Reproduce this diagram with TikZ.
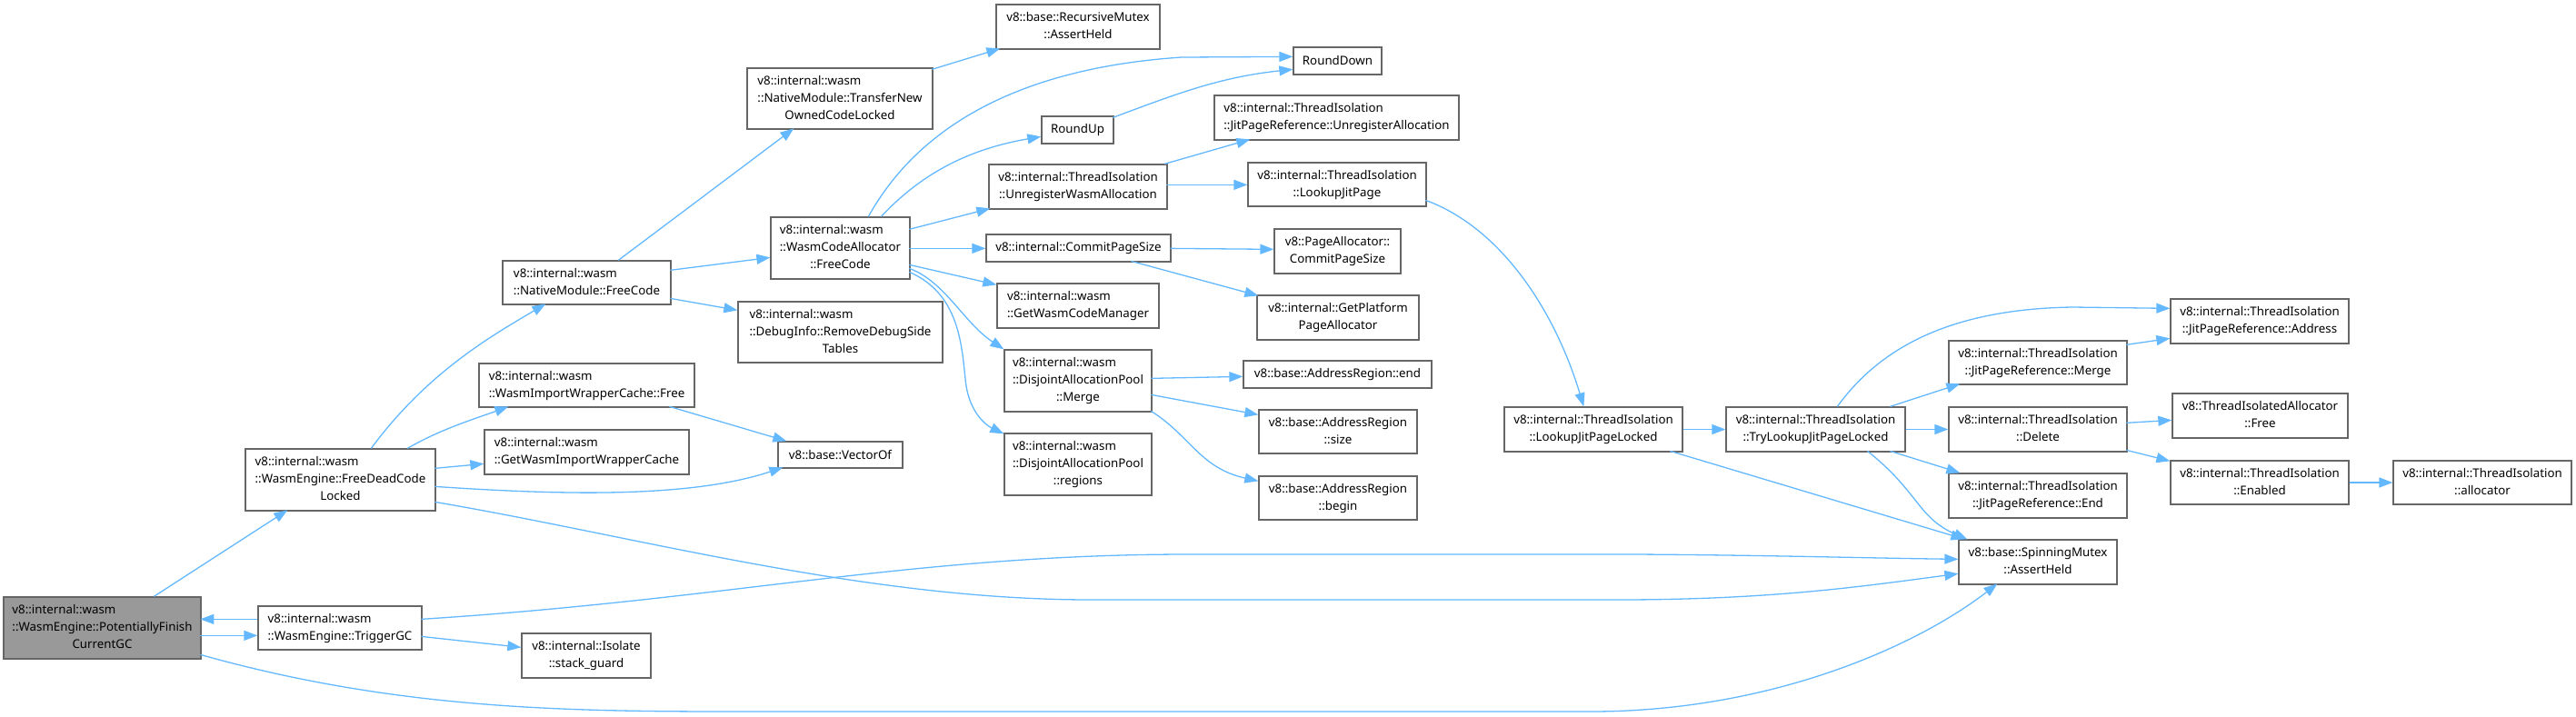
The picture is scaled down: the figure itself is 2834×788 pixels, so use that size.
\documentclass[tikz,border=0pt]{standalone}
\usepackage{fontspec}
\setmainfont{Noto Sans}
\usetikzlibrary{arrows.meta,calc}
\definecolor{edgeblue}{HTML}{63B8FF}
\definecolor{boxgray}{HTML}{666666}
\definecolor{rootfill}{HTML}{999999}
\tikzset{
  box/.style={draw=boxgray, line width=1.3pt, fill=white, inner sep=0pt, text=black,
    font=\fontsize{13.3}{19}\selectfont},
  rootbox/.style={box, fill=rootfill},
  edge/.style={draw=edgeblue, line width=1.3pt, -{Triangle[length=15pt,width=11pt]}},
}
\newcommand{\twol}[2]{\begin{tabular}{@{}l@{}}#1\\\multicolumn{1}{@{}c@{}}{#2}\end{tabular}}
\newcommand{\bx}[7][box]{\node[#1,minimum width={(#5-#3)*1pt},minimum height={(#6-#4)*1pt}] (#2) at ({(#3+#5)/2},{(#4+#6)/2}) {#7};}
\begin{document}
\begin{tikzpicture}[x=1pt,y=-1pt]
\useasboundingbox (0,0) rectangle (2834,788);
% nodes
\bx[rootbox]{A}{4}{657}{221}{725}{\twol{v8::internal::wasm\\::WasmEngine::PotentiallyFinish}{CurrentGC}}
\bx{B}{270}{494}{479}{562}{\twol{v8::internal::wasm\\::WasmEngine::FreeDeadCode}{Locked}}
\bx{C}{284}{667}{464}{715}{\twol{v8::internal::wasm}{::WasmEngine::TriggerGC}}
\bx{D}{574}{697}{716}{746}{\twol{v8::internal::Isolate}{::stack\_guard}}
\bx{E}{553}{287}{738}{335}{\twol{v8::internal::wasm}{::NativeModule::FreeCode}}
\bx{F}{527}{400}{764}{448}{\twol{v8::internal::wasm}{::WasmImportWrapperCache::Free}}
\bx{G}{533}{473}{758}{522}{\twol{v8::internal::wasm}{::GetWasmImportWrapperCache}}
\bx{H}{856}{486}{993}{515}{v8::base::VectorOf}
\bx{I}{848}{239}{1001}{307}{\twol{v8::internal::wasm\\::WasmCodeAllocator}{::FreeCode}}
\bx{J}{812}{332}{1037}{399}{\twol{v8::internal::wasm\\::DebugInfo::RemoveDebugSide}{Tables}}
\bx{K}{822}{75}{1026}{142}{\twol{v8::internal::wasm\\::NativeModule::TransferNew}{OwnedCodeLocked}}
\bx{L}{1096}{5}{1276}{54}{\twol{v8::base::RecursiveMutex}{::AssertHeld}}
\bx{M}{1423}{52}{1520}{82}{RoundDown}
\bx{N}{1146}{128}{1225}{158}{RoundUp}
\bx{O}{1088}{181}{1284}{230}{\twol{v8::internal::ThreadIsolation}{::UnregisterWasmAllocation}}
\bx{P}{1336}{105}{1605}{154}{\twol{v8::internal::ThreadIsolation}{::JitPageReference::UnregisterAllocation}}
\bx{Q}{1373}{179}{1569}{227}{\twol{v8::internal::ThreadIsolation}{::LookupJitPage}}
\bx{R}{1085}{258}{1288}{288}{v8::internal::CommitPageSize}
\bx{S}{1402}{252}{1541}{301}{\twol{v8::PageAllocator::}{CommitPageSize}}
\bx{T}{1097}{312}{1275}{361}{\twol{v8::internal::wasm}{::GetWasmCodeManager}}
\bx{U}{1383}{325}{1561}{374}{\twol{v8::internal::GetPlatform}{PageAllocator}}
\bx{V}{1105}{385}{1267}{453}{\twol{v8::internal::wasm\\::DisjointAllocationPool}{::Merge}}
\bx{W}{1368}{397}{1575}{427}{v8::base::AddressRegion::end}
\bx{X}{1385}{451}{1559}{499}{\twol{v8::base::AddressRegion}{::size}}
\bx{Y}{1385}{524}{1559}{572}{\twol{v8::base::AddressRegion}{::begin}}
\bx{Z}{1105}{477}{1267}{545}{\twol{v8::internal::wasm\\::DisjointAllocationPool}{::regions}}
\bx{AA}{1655}{448}{1851}{497}{\twol{v8::internal::ThreadIsolation}{::LookupJitPageLocked}}
\bx{AB}{1899}{448}{2096}{497}{\twol{v8::internal::ThreadIsolation}{::TryLookupJitPageLocked}}
\bx{AC}{2144}{375}{2340}{423}{\twol{v8::internal::ThreadIsolation}{::JitPageReference::Merge}}
\bx{AD}{2144}{448}{2340}{497}{\twol{v8::internal::ThreadIsolation}{::Delete}}
\bx{AE}{2144}{521}{2340}{570}{\twol{v8::internal::ThreadIsolation}{::JitPageReference::End}}
\bx{AF}{2155}{594}{2329}{643}{\twol{v8::base::SpinningMutex}{::AssertHeld}}
\bx{AG}{2388}{329}{2584}{378}{\twol{v8::internal::ThreadIsolation}{::JitPageReference::Address}}
\bx{AH}{2390}{433}{2583}{482}{\twol{v8::ThreadIsolatedAllocator}{::Free}}
\bx{AI}{2388}{507}{2584}{555}{\twol{v8::internal::ThreadIsolation}{::Enabled}}
\bx{AJ}{2633}{507}{2829}{555}{\twol{v8::internal::ThreadIsolation}{::allocator}}
% edges
\draw[edge] ($(A.north west)+(166,0)$) -- ($(B.north west)+(47,68)$);
\draw[edge] ($(C.north west)+(0,15)$) -- ($(A.north west)+(217,25)$);
\draw[edge] ($(A.north west)+(217,43)$) -- ($(C.north west)+(0,33)$);
\draw[edge] ($(A.north west)+(217,64)$) .. controls (450,785) and (650,783) .. (850,783) -- (1750,783) .. controls (1950,783) and (2110,710) .. ($(AF.north west)+(43,49)$);
\draw[edge] ($(C.north west)+(180,15)$) .. controls (800,660) and (1000,611) .. (1300,610) -- (1800,610) .. controls (1950,611) and (2050,614) .. ($(AF.north west)+(0,22)$);
\draw[edge] ($(C.north west)+(180,34)$) -- ($(D.north west)+(0,16)$);
\draw[edge] ($(B.north west)+(139,0)$) .. controls (470,410) and (540,370) .. ($(E.north west)+(48,48)$);
\draw[edge] ($(B.north west)+(179,0)$) .. controls (485,472) and (525,460) .. ($(F.north west)+(33,48)$);
\draw[edge] ($(B.north west)+(209,22)$) -- ($(G.north west)+(0,38)$);
\draw[edge] ($(B.north west)+(209,42)$) .. controls (620,545) and (760,548) .. ($(H.north west)+(6,29)$);
\draw[edge] ($(B.north west)+(209,59)$) .. controls (700,590) and (950,660) .. (1200,660) -- (1780,660) .. controls (1950,660) and (2050,645) .. ($(AF.north west)+(0,38)$);
\draw[edge] ($(F.north west)+(210,48)$) -- ($(H.north west)+(10,0)$);
\draw[edge] ($(E.north west)+(128,0)$) -- ($(K.north west)+(52,67)$);
\draw[edge] ($(E.north west)+(185,11)$) -- ($(I.north west)+(0,45)$);
\draw[edge] ($(E.north west)+(185,42)$) -- ($(J.north west)+(0,10)$);
\draw[edge] ($(K.north west)+(204,2)$) -- ($(L.north west)+(5,49)$);
\draw[edge] ($(I.north west)+(108,0)$) .. controls (1010,140) and (1120,75) .. (1300,63) -- ($(M.north west)+(0,11)$);
\draw[edge] ($(I.north west)+(122,0)$) .. controls (1010,195) and (1060,165) .. ($(N.north west)+(0,23)$);
\draw[edge] ($(N.north west)+(79,2)$) .. controls (1290,105) and (1340,85) .. ($(M.north west)+(0,25)$);
\draw[edge] ($(I.north west)+(153,14)$) -- ($(O.north west)+(2,49)$);
\draw[edge] ($(I.north west)+(153,35)$) -- ($(R.north west)+(0,16)$);
\draw[edge] ($(I.north west)+(153,53)$) -- ($(T.north west)+(0,2)$);
\draw[edge] ($(I.north west)+(153,57)$) .. controls (1040,310) and (1060,355) .. ($(V.north west)+(0,0)$);
\draw[edge] ($(I.north west)+(153,61)$) .. controls (1060,325) and (1058,390) .. (1063,425) .. controls (1068,455) and (1085,468) .. ($(Z.north west)+(0,1)$);
\draw[edge] ($(O.north west)+(194,0)$) -- ($(P.north west)+(40,49)$);
\draw[edge] ($(O.north west)+(196,23)$) -- ($(Q.north west)+(0,25)$);
\draw[edge] ($(R.north west)+(203,16)$) -- ($(S.north west)+(0,23)$);
\draw[edge] ($(R.north west)+(160,30)$) -- ($(U.north west)+(2,1)$);
\draw[edge] ($(V.north west)+(162,32)$) -- ($(W.north west)+(0,18)$);
\draw[edge] ($(V.north west)+(162,50)$) -- ($(X.north west)+(0,6)$);
\draw[edge] ($(V.north west)+(162,68)$) .. controls (1310,480) and (1320,515) .. ($(Y.north west)+(0,6)$);
\draw[edge] ($(Q.north west)+(196,42)$) .. controls (1650,250) and (1710,340) .. ($(AA.north west)+(88,0)$);
\draw[edge] (AA.east) -- (AB.west);
\draw[edge] ($(AA.north west)+(183,49)$) -- ($(AF.north west)+(7,0)$);
\draw[edge] ($(AB.north west)+(123,0)$) .. controls (2070,380) and (2150,340) .. (2280,338) -- ($(AG.north west)+(0,11)$);
\draw[edge] ($(AB.north west)+(181,0)$) -- ($(AC.north west)+(13,48)$);
\draw[edge] (AB.east) -- (AD.west);
\draw[edge] ($(AB.north west)+(181,49)$) -- ($(AE.north west)+(13,0)$);
\draw[edge] ($(AB.north west)+(156,49)$) .. controls (2110,540) and (2110,570) .. ($(AF.north west)+(10,0)$);
\draw[edge] ($(AC.north west)+(196,5)$) -- ($(AG.north west)+(0,44)$);
\draw[edge] ($(AD.north west)+(196,18)$) -- ($(AH.north west)+(0,30)$);
\draw[edge] ($(AD.north west)+(196,48)$) -- ($(AI.north west)+(0,1)$);
\draw[edge] (AI.east) -- (AJ.west);
\end{tikzpicture}
\end{document}
